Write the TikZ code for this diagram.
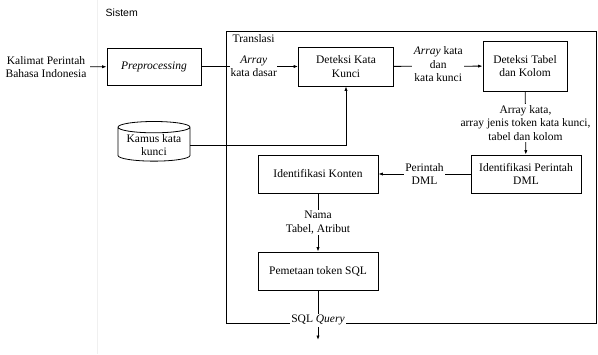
\documentclass[tikz,border=0pt]{standalone}
\usepackage{fontspec}
\setmainfont{Liberation Serif}
\setsansfont{Liberation Sans}
\usetikzlibrary{arrows.meta,shapes.geometric}

\begin{document}
\begin{tikzpicture}[x=1pt,y=-1pt,line width=0.8pt,
  font=\fontsize{11.5}{13.5}\selectfont,
  >={Latex[length=4.5pt,width=3.2pt]},
  proc/.style={rectangle,draw,align=center,inner sep=2pt},
  lbl/.style={fill=white,align=center,inner sep=1.5pt}]

\useasboundingbox (0,0) rectangle (598,354);

% sistem en translasi
\draw[line width=0.6pt,color=black!6] (97,0) -- (97,354);
\node[anchor=west,font=\sffamily\fontsize{10.5}{12}\selectfont] (sis) at (102,13) {Sistem};
\draw (226,31) rectangle (596,323);
\node[anchor=west] (tr) at (229,39) {Translasi};

\node[align=center] (in) at (46,67) {Kalimat Perintah\\Bahasa Indonesia};
\node[proc,minimum width=94pt,minimum height=37pt] (prep) at (154,66.5) {\textit{Preprocessing}};
\node[proc,minimum width=95pt,minimum height=39pt] (dkk) at (346,66.5) {Deteksi Kata\\Kunci};
\node[proc,minimum width=84pt,minimum height=50pt] (dtk) at (525,66) {Deteksi Tabel\\dan Kolom};
\node[proc,minimum width=110pt,minimum height=38pt] (dml) at (526,174) {Identifikasi Perintah\\DML};
\node[proc,minimum width=120pt,minimum height=38pt] (kont) at (318,174) {Identifikasi Konten};
\node[proc,minimum width=120pt,minimum height=38pt] (peta) at (318,271) {Pemetaan token SQL};
\node[cylinder,draw,shape border rotate=90,aspect=0.2,align=center,
  minimum width=72pt,minimum height=38pt,inner sep=1pt] (kamus) at (154,145) {Kamus kata\\kunci};
\coordinate (out) at (318,340);

\draw[->] (in) -- (prep);
\draw[->] (prep) -- node[lbl,xshift=4pt,inner sep=0.5pt] {\textit{Array}\\kata dasar} (dkk);
\draw[->] (dkk) -- node[lbl,yshift=2pt] {\textit{Array} kata\\dan\\kata kunci} (dtk);
\draw[->] (dtk) -- node[lbl] {Array kata,\\array jenis token kata kunci,\\tabel dan kolom} (dml);
\draw[->] (dml) -- node[lbl] {Perintah\\DML} (kont);
\draw[->] (kont) -- node[lbl] {Nama\\Tabel, Atribut} (peta);
\draw[->] (peta) -- node[lbl,pos=0.6] {SQL \textit{Query}} (out);
\draw[->] (kamus) -| (dkk);
\end{tikzpicture}
\end{document}
